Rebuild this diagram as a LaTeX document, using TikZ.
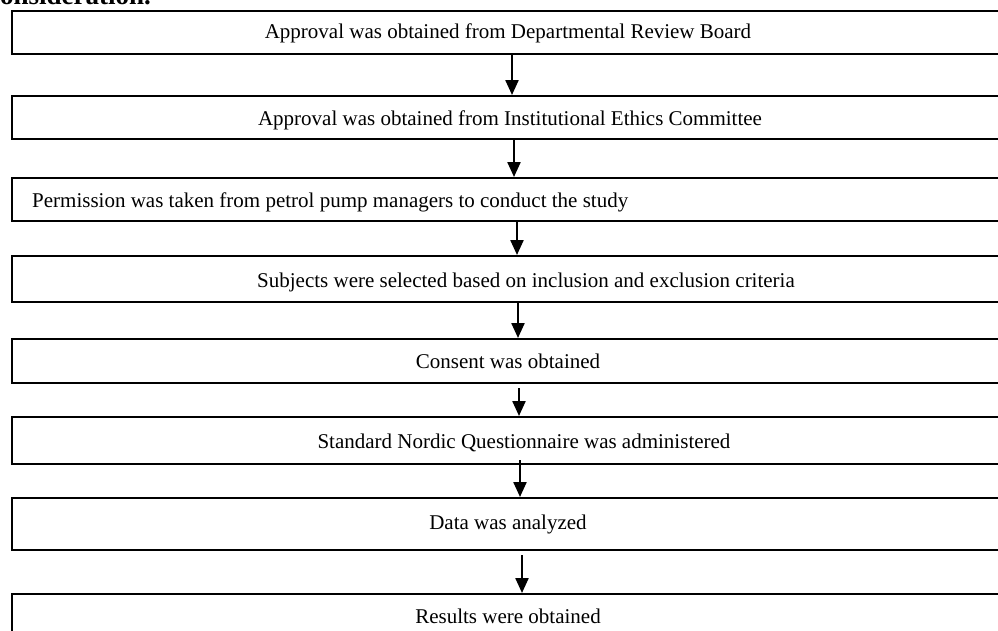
\documentclass[tikz,border=0pt]{standalone}
\usepackage{fontspec}
\setmainfont{Liberation Serif}
\usetikzlibrary{arrows.meta}
\tikzset{
  box/.style={draw=black, line width=2pt, rectangle, anchor=north west, minimum width=1000pt, inner sep=0pt},
  lbl/.style={anchor=base, inner sep=0pt, font=\fontsize{21}{24}\selectfont},
  arr/.style={line width=2.3pt, -{Triangle[width=13pt,length=15pt]}},
}
\begin{document}
\begin{tikzpicture}[x=1pt,y=-1pt]
\useasboundingbox (0,0) rectangle (998,630);
\clip (0,0) rectangle (998,630);
\node[anchor=base west, inner sep=0pt, font=\fontsize{27}{30}\selectfont\bfseries] (head) at (0,4.5) {onsideration.};
% boxes
\node[box, minimum height=43.5pt] (b1) at (11,9.5) {};
\node[box, minimum height=43pt] (b2) at (11,95) {};
\node[box, minimum height=43pt] (b3) at (11,177) {};
\node[box, minimum height=46pt] (b4) at (11,255) {};
\node[box, minimum height=44pt] (b5) at (11,338) {};
\node[box, minimum height=47pt] (b6) at (11,416) {};
\node[box, minimum height=52pt] (b7) at (11,497) {};
\node[box, minimum height=60pt] (b8) at (11,593) {};
% labels
\node[lbl] (t1) at (508,38) {Approval was obtained from Departmental Review Board};
\node[lbl] (t2) at (510,125) {Approval was obtained from Institutional Ethics Committee};
\node[lbl, anchor=base west] (t3) at (32,207) {Permission was taken from petrol pump managers to conduct the study};
\node[lbl] (t4) at (526,287) {Subjects were selected based on inclusion and exclusion criteria};
\node[lbl] (t5) at (508,368) {Consent was obtained};
\node[lbl] (t6) at (524,448) {Standard Nordic Questionnaire was administered};
\node[lbl] (t7) at (508,529) {Data was analyzed};
\node[lbl] (t8) at (508,623) {Results were obtained};
% arrows
\draw[arr] (512,55 |- b1.south) -- (512,0 |- b2.north);
\draw[arr] (514,0 |- b2.south) -- (514,0 |- b3.north);
\draw[arr] (517,0 |- b3.south) -- (517,0 |- b4.north);
\draw[arr] (518,0 |- b4.south) -- (518,0 |- b5.north);
\draw[arr] ([yshift=-4pt]519,0 |- b5.south) -- (519,0 |- b6.north);
\draw[arr] ([yshift=5pt]520,0 |- b6.south) -- (520,0 |- b7.north);
\draw[arr] ([yshift=-4pt]522,0 |- b7.south) -- (522,0 |- b8.north);
\end{tikzpicture}
\end{document}
